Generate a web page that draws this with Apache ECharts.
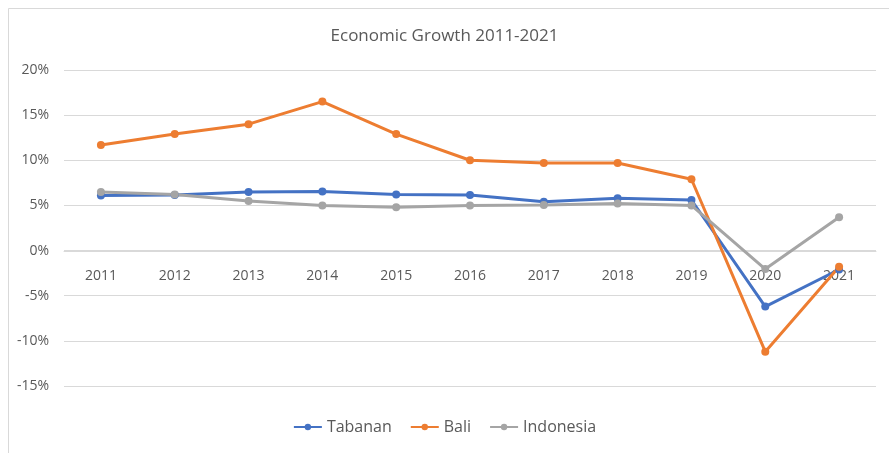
<!DOCTYPE html>
<html>
<head>
<meta charset="utf-8">
<script src="https://cdn.jsdelivr.net/npm/echarts@6/dist/echarts.min.js"></script>
<style>html,body{margin:0;padding:0;background:#fff;}#c{width:889px;height:453px;}</style>
</head>
<body>
<div id="c"></div>
<script>
const years = ['2011','2012','2013','2014','2015','2016','2017','2018','2019','2020','2021'];
const tabanan = [6.1, 6.15, 6.5, 6.55, 6.2, 6.15, 5.4, 5.8, 5.6, -6.2, -2.1];
const bali = [11.7, 12.9, 14.0, 16.5, 12.9, 10.0, 9.7, 9.7, 7.9, -11.2, -1.8];
const indonesia = [6.5, 6.2, 5.5, 5.0, 4.8, 5.0, 5.05, 5.2, 5.0, -2.05, 3.7];
const yTicks = [-15, -10, -5, 0, 5, 10, 15, 20];

const font = '"Open Sans", "Liberation Sans", sans-serif';
const chart = echarts.init(document.getElementById('c'));
function mk(name, data, color) {
  return {
    name, type: 'line', data,
    symbol: 'circle', symbolSize: 8,
    lineStyle: { width: 3, color },
    itemStyle: { color },
    z: 3
  };
}
// grid: top 70, bottom edge at 386 (value -15); zero line at 251 => offset -135
chart.setOption({
  animation: false,
  backgroundColor: '#fff',
  graphic: [{
    type: 'rect', left: 6, top: 6,
    shape: { width: 881, height: 470 },
    style: { fill: 'none', stroke: '#d9d9d9', lineWidth: 1 },
    silent: true
  }],
  title: {
    text: 'Economic Growth 2011-2021',
    left: 'center', top: 23,
    textStyle: { fontFamily: font, fontSize: 17, fontWeight: 'normal', color: '#595959' }
  },
  legend: {
    bottom: 13, left: 'center',
    itemWidth: 28, itemHeight: 8, itemGap: 18,
    textStyle: { fontFamily: font, fontSize: 16, color: '#595959' },
    data: ['Tabanan', 'Bali', 'Indonesia']
  },
  grid: { left: 64, right: 13, top: 70, bottom: 67, containLabel: false },
  xAxis: {
    type: 'category', data: years, boundaryGap: true,
    position: 'bottom', offset: -135,
    axisLine: { onZero: false, lineStyle: { color: '#d9d9d9', width: 1 } },
    axisTick: { show: false },
    axisLabel: { margin: 18, fontFamily: font, fontSize: 14, color: '#595959' }
  },
  yAxis: {
    type: 'value', min: -15, max: 20, interval: 5,
    axisLine: { show: false }, axisTick: { show: false },
    splitLine: { lineStyle: { color: '#d9d9d9', width: 1 } },
    axisLabel: {
      margin: 15, fontFamily: font, fontSize: 14, color: '#595959',
      formatter: v => yTicks.includes(v) ? v + '%' : ''
    }
  },
  series: [
    mk('Tabanan', tabanan, '#4472C4'),
    mk('Bali', bali, '#ED7D31'),
    mk('Indonesia', indonesia, '#A5A5A5')
  ]
});
</script>
</body>
</html>
